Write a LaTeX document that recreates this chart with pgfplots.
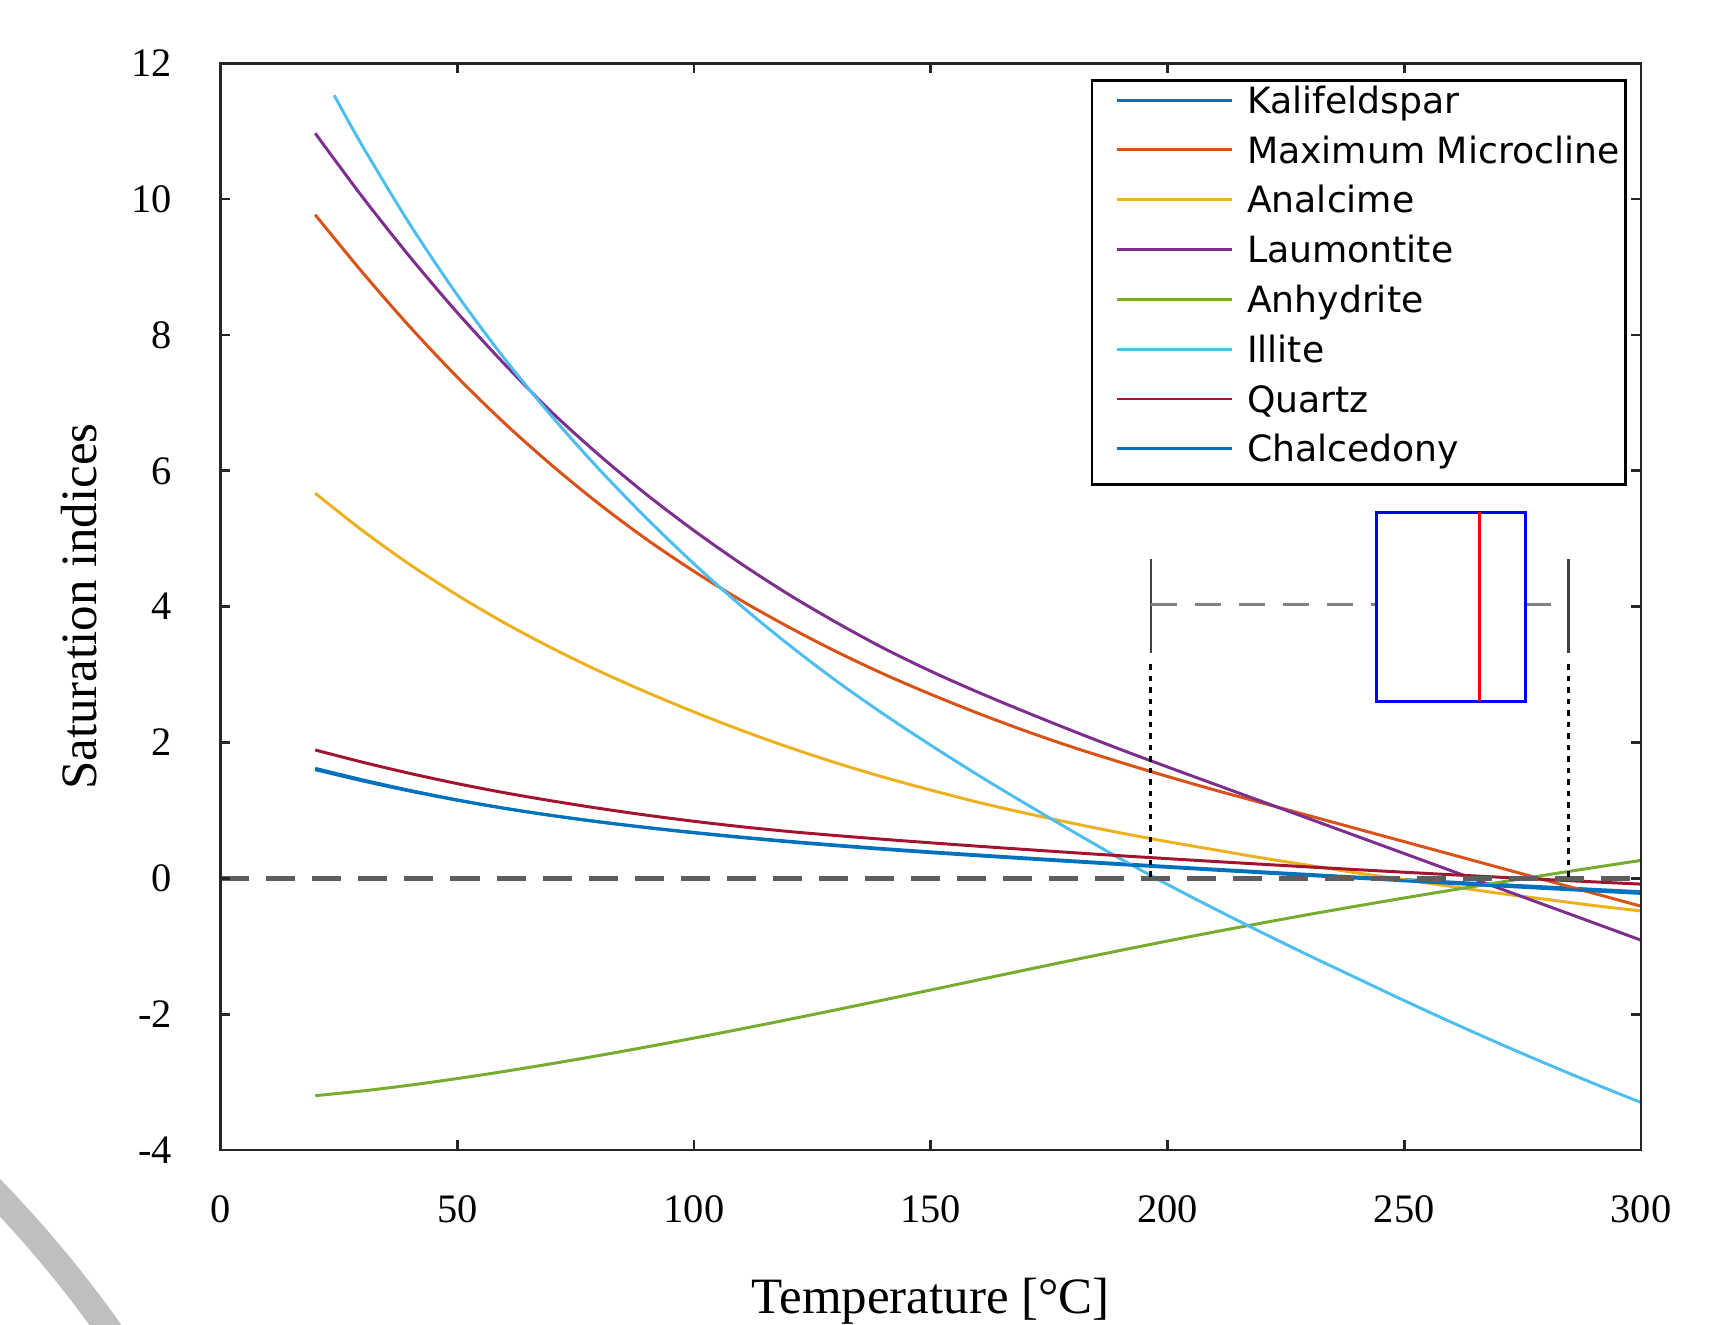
\documentclass[border=0pt]{standalone}
\usepackage{fontspec}
\setmainfont{Liberation Serif}
\newfontfamily\legfont{DejaVu Sans}
\usepackage{pgfplots}
\pgfplotsset{compat=1.18}

\definecolor{kali}{HTML}{0072BD}
\definecolor{micro}{HTML}{D95319}
\definecolor{anal}{HTML}{EDB120}
\definecolor{laum}{HTML}{7E2F8E}
\definecolor{anhy}{HTML}{77AC30}
\definecolor{illi}{HTML}{4DBEEE}
\definecolor{quar}{HTML}{A2142F}
\definecolor{axgray}{HTML}{262626}
\definecolor{zgray}{HTML}{5E5E5E}
\definecolor{wgray}{HTML}{808080}
\definecolor{capgray}{HTML}{404040}

\begin{document}
\begin{tikzpicture}
\useasboundingbox (-22.05mm,-17.4mm) rectangle (149.15mm,115mm);
% grey ring segment in the lower left corner
\draw[black!25, line width=2.6mm] (-108.97mm,-87.5mm) ++(28:120mm) arc[start angle=28, end angle=52, radius=120mm];
\begin{axis}[
    scale only axis,
    width=142.05mm, height=108.67mm,
    xmin=0, xmax=300, ymin=-4, ymax=12,
    xtick={0,50,...,300}, ytick={-4,-2,...,12},
    tick align=inside, major tick length=1mm,
    axis line style={line width=0.77pt, axgray},
    every tick/.style={line width=0.77pt, axgray},
    axis on top,
    tick label style={font=\fontsize{11.5}{13}\selectfont, /pgf/number format/assume math mode=true},
    xticklabel style={inner sep=0pt, anchor=north, yshift=-4.5mm},
    yticklabel style={inner sep=0pt, anchor=east, xshift=-4.8mm},
    xlabel={Temperature [°C]}, ylabel={Saturation indices},
    label style={font=\fontsize{14.5}{17}\selectfont},
    xlabel style={at={(axis description cs:0.5,-0.15)}, anchor=base},
    ylabel style={at={(axis description cs:-0.0876,0.5)}, anchor=base},
    legend cell align=left,
    legend style={at={(rel axis cs:0.990,0.9855)}, anchor=north east,
        draw=black, line width=0.7pt,
        font=\legfont\fontsize{10.3}{12}\selectfont,
        inner xsep=0.6mm, inner ysep=0.3mm, column sep=1.4mm,
        nodes={inner sep=0pt, text height=3.0mm, text depth=1.98mm}},
    legend image code/.code={\path (0mm,0mm); \draw[#1, line width=0.85pt] (1.7mm,0.8mm) -- (13.2mm,0.8mm);},
    every axis plot/.append style={line width=0.85pt, smooth},
]
\addplot[kali] coordinates {
(20,1.600) (30,1.435) (40,1.285) (50,1.150) (60,1.030) (70,0.925) (80,0.832) (90,0.750)
(100,0.676) (110,0.608) (120,0.546) (130,0.490) (140,0.438) (150,0.390) (160,0.345)
(170,0.301) (180,0.258) (190,0.216) (200,0.175) (210,0.135) (220,0.096) (230,0.057)
(240,0.019) (250,-0.018) (260,-0.055) (270,-0.091) (280,-0.127) (290,-0.162) (300,-0.197)};
\addlegendentry{Kalifeldspar}
\addplot[micro] coordinates {
(20,9.77) (30,8.92) (40,8.12) (50,7.38) (60,6.70) (70,6.08) (80,5.51) (90,4.99)
(100,4.52) (110,4.09) (120,3.70) (130,3.34) (140,3.01) (150,2.71) (160,2.43)
(170,2.17) (180,1.93) (190,1.71) (200,1.50) (210,1.30) (220,1.11) (230,0.92)
(240,0.73) (250,0.54) (260,0.35) (270,0.16) (280,-0.03) (290,-0.22) (300,-0.41)};
\addlegendentry{Maximum Microcline}
\addplot[anal] coordinates {
(20,5.67) (30,5.12) (40,4.62) (50,4.17) (60,3.76) (70,3.39) (80,3.05) (90,2.74)
(100,2.45) (110,2.18) (120,1.93) (130,1.70) (140,1.49) (150,1.30) (160,1.12)
(170,0.96) (180,0.81) (190,0.67) (200,0.54) (210,0.42) (220,0.30) (230,0.19)
(240,0.08) (250,-0.02) (260,-0.12) (270,-0.22) (280,-0.31) (290,-0.40) (300,-0.48)};
\addlegendentry{Analcime}
\addplot[laum] coordinates {
(20,10.97) (30,10.03) (40,9.15) (50,8.33) (60,7.57) (70,6.86) (80,6.23) (90,5.65)
(100,5.12) (110,4.63) (120,4.18) (130,3.77) (140,3.39) (150,3.05) (160,2.74)
(170,2.45) (180,2.17) (190,1.90) (200,1.64) (210,1.385) (220,1.13) (230,0.875)
(240,0.62) (250,0.365) (260,0.11) (270,-0.145) (280,-0.40) (290,-0.655) (300,-0.91)};
\addlegendentry{Laumontite}
\addplot[anhy] coordinates {
(20,-3.200) (30,-3.130) (40,-3.045) (50,-2.948) (60,-2.842) (70,-2.728) (80,-2.608) (90,-2.482)
(100,-2.352) (110,-2.217) (120,-2.078) (130,-1.936) (140,-1.791) (150,-1.644) (160,-1.496)
(170,-1.349) (180,-1.204) (190,-1.062) (200,-0.923) (210,-0.788) (220,-0.657) (230,-0.530)
(240,-0.408) (250,-0.289) (260,-0.173) (270,-0.060) (280,0.050) (290,0.158) (300,0.264)};
\addlegendentry{Anhydrite}
\addplot[illi] coordinates {
(24,11.53) (30,10.78) (40,9.63) (50,8.59) (60,7.65) (70,6.80) (80,6.02) (90,5.30)
(100,4.63) (110,4.01) (120,3.44) (130,2.91) (140,2.42) (150,1.96) (160,1.52)
(170,1.10) (180,0.69) (190,0.29) (200,-0.09) (210,-0.45) (220,-0.80) (230,-1.14)
(240,-1.47) (250,-1.80) (260,-2.12) (270,-2.43) (280,-2.73) (290,-3.02) (300,-3.30)};
\addlegendentry{Illite}
\addplot[quar] coordinates {
(20,1.890) (30,1.710) (40,1.545) (50,1.395) (60,1.260) (70,1.140) (80,1.030) (90,0.930)
(100,0.840) (110,0.760) (120,0.690) (130,0.630) (140,0.575) (150,0.523) (160,0.473)
(170,0.425) (180,0.378) (190,0.333) (200,0.290) (210,0.248) (220,0.207) (230,0.167)
(240,0.128) (250,0.090) (260,0.053) (270,0.017) (280,-0.018) (290,-0.052) (300,-0.085)};
\addlegendentry{Quartz}
\addplot[kali] coordinates {
(20,1.620) (30,1.450) (40,1.295) (50,1.155) (60,1.032) (70,0.925) (80,0.830) (90,0.746)
(100,0.670) (110,0.600) (120,0.537) (130,0.480) (140,0.427) (150,0.378) (160,0.332)
(170,0.288) (180,0.245) (190,0.203) (200,0.162) (210,0.121) (220,0.081) (230,0.041)
(240,0.002) (250,-0.037) (260,-0.075) (270,-0.113) (280,-0.150) (290,-0.186) (300,-0.222)};
\addlegendentry{Chalcedony}

% zero line
\addplot[forget plot, sharp plot, zgray, line width=1.5pt, dash pattern=on 2.9mm off 1.7mm] coordinates {(0,0) (300,0)};

% box plot of temperatures
\addplot[forget plot, sharp plot, black, dash pattern=on 0.55mm off 0.6mm] coordinates {(196.5,3.15) (196.5,0)};
\addplot[forget plot, sharp plot, black, dash pattern=on 0.55mm off 0.6mm] coordinates {(284.7,3.15) (284.7,0)};
\addplot[forget plot, sharp plot, capgray, line width=0.75pt] coordinates {(196.5,3.32) (196.5,4.70)};
\addplot[forget plot, sharp plot, capgray, line width=0.75pt] coordinates {(284.7,3.32) (284.7,4.70)};
\addplot[forget plot, sharp plot, wgray, line width=0.75pt, dash pattern=on 2.6mm off 1.8mm] coordinates {(196.5,4.03) (244.2,4.03)};
\addplot[forget plot, sharp plot, wgray, line width=0.75pt, dash pattern=on 2.6mm off 1.8mm] coordinates {(275.6,4.03) (284.7,4.03)};
\addplot[forget plot, sharp plot, blue, line join=miter] coordinates {(244.2,2.61) (275.6,2.61) (275.6,5.39) (244.2,5.39) (244.2,2.61) (275.6,2.61)};
\addplot[forget plot, sharp plot, red] coordinates {(265.9,2.61) (265.9,5.39)};
\end{axis}
\end{tikzpicture}
\end{document}
